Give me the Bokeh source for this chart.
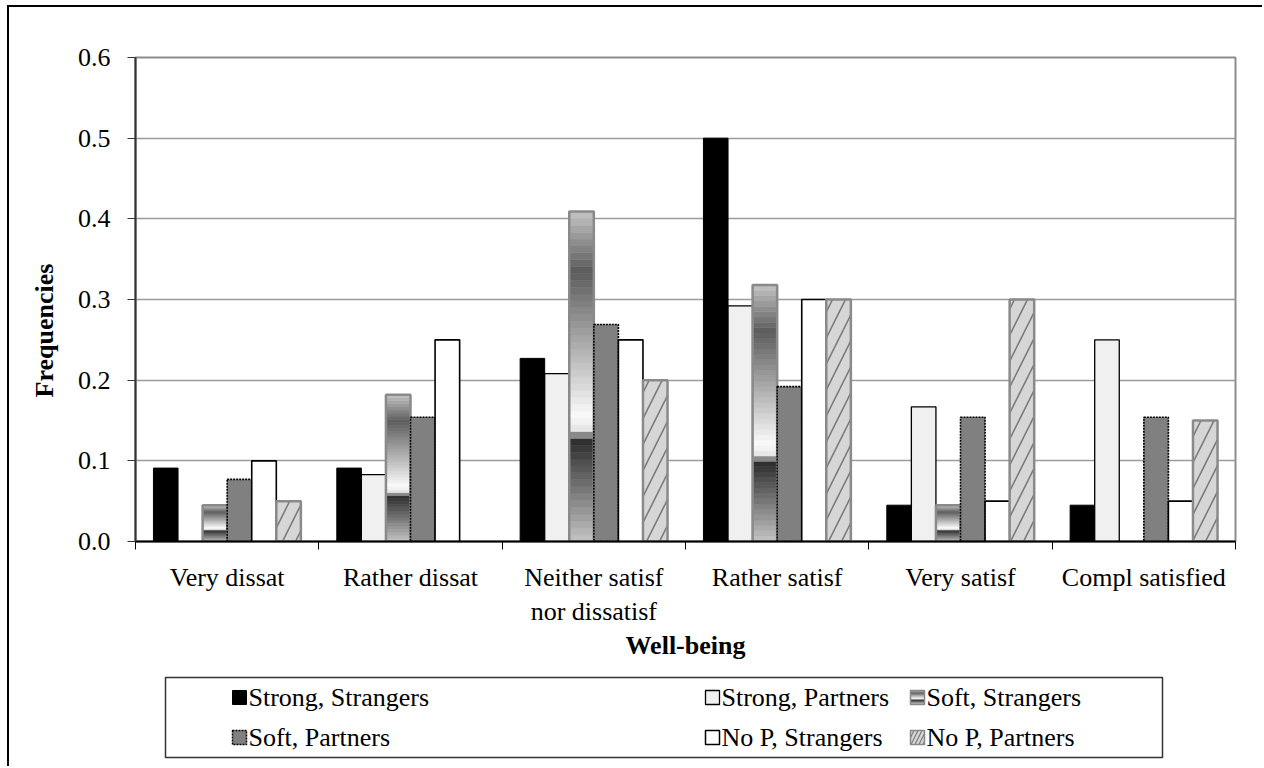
import numpy as np
from bokeh.plotting import figure
from bokeh.models import (ColumnDataSource, FixedTicker, NumeralTickFormatter, Range1d,
                          Title)
from bokeh.layouts import column
from bokeh.core.properties import value
from bokeh.embed import file_html
from bokeh.resources import INLINE

# ---------------- data ----------------
categories = ["Very dissat", "Rather dissat", "Neither satisf\nnor dissatisf",
              "Rather satisf", "Very satisf", "Compl satisfied"]
series_names = ["Strong, Strangers", "Strong, Partners", "Soft, Strangers",
                "Soft, Partners", "No P, Strangers", "No P, Partners"]
strong_strangers = [0.091, 0.091, 0.227, 0.500, 0.045, 0.045]
strong_partners = [0.000, 0.083, 0.208, 0.292, 0.167, 0.250]
soft_strangers = [0.045, 0.182, 0.409, 0.318, 0.045, 0.000]
soft_partners = [0.077, 0.154, 0.269, 0.192, 0.154, 0.154]
nop_strangers = [0.100, 0.250, 0.250, 0.300, 0.050, 0.050]
nop_partners = [0.050, 0.000, 0.200, 0.300, 0.300, 0.150]
y_ticks = [0.0, 0.1, 0.2, 0.3, 0.4, 0.5, 0.6]
x_title = "Well-being"
y_title = "Frequencies"

series_values = [strong_strangers, strong_partners, soft_strangers,
                 soft_partners, nop_strangers, nop_partners]

# ---------------- styles ----------------
FONT = "Liberation Serif"
FS = "26px"
BAR_W = 0.134
styles = [
    dict(fill_color="black", line_color="black", line_width=1),
    dict(fill_color="#f0f0f0", line_color="black", line_width=1.3),
    dict(gradient=True, line_color="#8a8a8a", line_width=2.5),
    dict(fill_color="#808080", line_color="black", line_width=1.6, line_dash="2 1"),
    dict(fill_color="white", line_color="black", line_width=1.6),
    dict(fill_color="#d6d6d6", line_color="#8a8a8a", line_width=2.5,
         hatch_pattern="right_diagonal_line", hatch_color="#7a7a7a",
         hatch_scale=26, hatch_weight=1.6),
]
# metallic gradient of "Soft, Strangers" (fraction from top -> gray level)
grad_pos = [0.0, 0.18, 0.62, 0.665, 0.69, 1.0]
grad_lvl = [196, 92, 250, 226, 44, 196]


def gray_at(f):
    g = int(round(np.interp(f, grad_pos, grad_lvl)))
    return "#%02x%02x%02x" % (g, g, g)


N_BANDS = 48

# page geometry (page pixels)
FIG_W = 1253
FRAME_L, FRAME_R = 135, 1235
MB_L = FRAME_L - 9
MB_R = 9 + FIG_W - FRAME_R

p = figure(width=FIG_W, height=663, x_range=Range1d(0, 6), y_range=Range1d(0, 0.6),
           output_backend="svg", toolbar_location=None,
           min_border_left=MB_L, min_border_right=MB_R, min_border_top=50,
           min_border_bottom=129)
p.background_fill_color = "white"
p.border_fill_color = "white"
p.outline_line_color = "#8c8c8c"
p.outline_line_width = 2

for k, (vals, st) in enumerate(zip(series_values, styles)):
    xs = [i + 0.5 + (k - 2.5) * BAR_W for i in range(len(categories))]
    keep = [i for i, v in enumerate(vals) if v > 0]
    xk = [xs[i] for i in keep]
    vk = [vals[i] for i in keep]
    if st.get("gradient"):
        bx, bb, bt, bc = [], [], [], []
        for x, v in zip(xk, vk):
            for j in range(N_BANDS):
                bx.append(x)
                bb.append(v * j / N_BANDS)
                bt.append(v * (j + 1) / N_BANDS)
                bc.append(gray_at(1 - (j + 0.5) / N_BANDS))
        src = ColumnDataSource(dict(x=bx, bottom=bb, top=bt, c=bc))
        p.vbar(x="x", bottom="bottom", top="top", width=BAR_W, source=src,
               fill_color="c", line_color="c", line_width=0.6)
        p.vbar(x=xk, top=vk, bottom=0, width=BAR_W, fill_color=None,
               line_color=st["line_color"], line_width=st["line_width"])
    else:
        kw = {kk: vv for kk, vv in st.items()}
        p.vbar(x=xk, top=vk, bottom=0, width=BAR_W, **kw)

# axes
p.xgrid.visible = False
p.ygrid.ticker = FixedTicker(ticks=y_ticks)
p.ygrid.grid_line_color = "#9c9c9c"
p.ygrid.grid_line_width = 1.5

xa = p.xaxis[0]
xa.ticker = FixedTicker(ticks=[i + 0.5 for i in range(len(categories))],
                        minor_ticks=list(range(len(categories) + 1)))
xa.major_label_overrides = {i + 0.5: c for i, c in enumerate(categories)}
xa.major_tick_out = 0
xa.major_tick_in = 0
xa.minor_tick_out = 8
xa.minor_tick_in = 0
xa.minor_tick_line_color = "black"
xa.axis_line_color = "black"
xa.axis_line_width = 2
xa.major_label_text_font = FONT
xa.major_label_text_font_size = FS
xa.major_label_text_color = "black"
xa.major_label_standoff = 13
xa.axis_label = x_title
xa.axis_label_text_font = FONT
xa.axis_label_text_font_size = FS
xa.axis_label_text_font_style = "bold"
xa.axis_label_text_color = "black"
xa.axis_label_standoff = 2

ya = p.yaxis[0]
ya.ticker = FixedTicker(ticks=y_ticks)
ya.formatter = NumeralTickFormatter(format="0.0")
ya.major_tick_out = 8
ya.major_tick_in = 0
ya.minor_tick_out = 0
ya.minor_tick_in = 0
ya.major_tick_line_color = "#333333"
ya.axis_line_color = "#333333"
ya.axis_line_width = 2
ya.major_label_text_font = FONT
ya.major_label_text_font_size = FS
ya.major_label_text_color = "black"
ya.major_label_standoff = 17

# y title as a side title, starting a bit above the frame bottom (as in the reference)
ytitle = Title(text=y_title, align="left", offset=144, standoff=32,
               text_font=FONT, text_font_size=FS, text_font_style="bold",
               text_color="black")
p.add_layout(ytitle, "left")

# ---------------- legend strip ----------------
LX0, LX1, LY0, LY1 = 165, 1162, 677, 757
col_x = [232, 705, 910]
row_y = [697, 737]
SW = 14

lp = figure(width=FIG_W, height=96, x_range=Range1d(FRAME_L, FRAME_R),
            y_range=Range1d(766, 670), output_backend="svg", toolbar_location=None,
            min_border_left=MB_L, min_border_right=MB_R, min_border_top=0,
            min_border_bottom=0)
lp.outline_line_color = None
lp.axis.visible = False
lp.grid.visible = False
lp.background_fill_color = "white"
lp.border_fill_color = "white"
lp.quad(left=[LX0], right=[LX1], top=[LY0], bottom=[LY1], fill_color=None,
        line_color="#333333", line_width=1.5)

for k, (name, st) in enumerate(zip(series_names, styles)):
    cx = col_x[k % 3]
    cy = row_y[k // 3]
    if st.get("gradient"):
        gb, gt, gc = [], [], []
        for j in range(12):
            gt.append(cy - SW / 2 + SW * j / 12)
            gb.append(cy - SW / 2 + SW * (j + 1) / 12)
            gc.append(gray_at((j + 0.5) / 12))
        lp.quad(left=cx, right=cx + SW, top=gt, bottom=gb, fill_color=gc,
                line_color=gc, line_width=0.5)
        lp.quad(left=[cx], right=[cx + SW], top=[cy - SW / 2], bottom=[cy + SW / 2],
                fill_color=None, line_color=st["line_color"], line_width=1.5)
    else:
        kw = {kk: vv for kk, vv in st.items()}
        kw["line_width"] = min(kw.get("line_width", 1), 1.5)
        if "hatch_scale" in kw:
            kw["hatch_scale"] = 8
            kw["hatch_weight"] = 1.2
        lp.quad(left=[cx], right=[cx + SW], top=[cy - SW / 2], bottom=[cy + SW / 2], **kw)
    lp.text(x=[cx + SW + 2], y=[cy], text=[name], text_font=value(FONT),
            text_font_size=FS, text_baseline="middle", text_align="left",
            text_color="black")

layout = column(p, lp, spacing=0,
                styles={"border-left": "2px solid black", "border-top": "2px solid black",
                        "margin-left": "7px", "margin-top": "5px"})

open("out.html", "w").write(file_html(layout, INLINE))
